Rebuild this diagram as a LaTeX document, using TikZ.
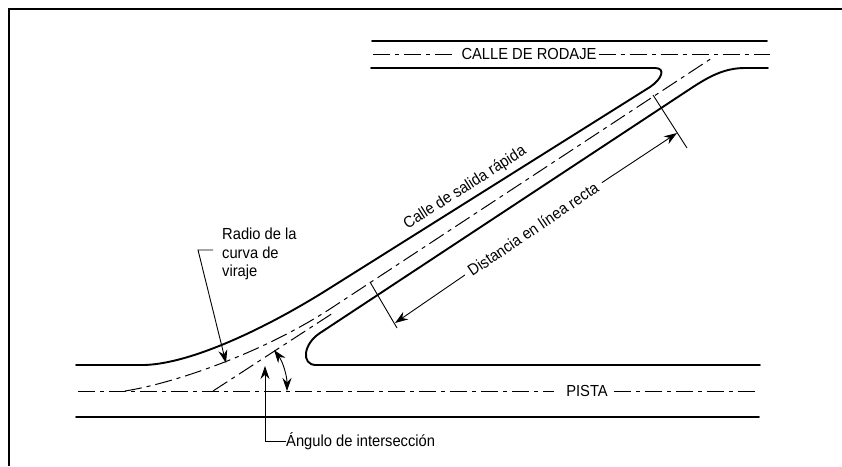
\documentclass[tikz,border=0pt]{standalone}
\usepackage{fontspec}
\setmainfont[FakeStretch=0.92]{Liberation Sans}
\usetikzlibrary{arrows.meta}
\tikzset{
  road/.style={line width=1.9pt,black,line cap=round},
  axis/.style={line width=1pt,black,dash pattern=on 17pt off 5pt on 4pt off 5pt},
  thin leader/.style={line width=0.9pt,black},
  tip/.style={-{Stealth[length=13pt,width=9pt]}},
  lab/.style={inner sep=0pt,font=\fontsize{16}{18.5}\selectfont,text=black}
}
\begin{document}
\begin{tikzpicture}[x=1pt,y=-1pt]
\useasboundingbox (0,0) rectangle (842,466);
% frame
\draw[line width=1.3pt] (9,466) -- (9,9) -- (842,9);
% runway
\draw[road] (372,41) -- (767,41);
\draw[road] (76,417) -- (759,417);
% exit taxiway edges
\draw[road] (76,365) -- (140,365) .. controls (185,366) and (262,331) .. (330,288) -- (650,87) .. controls (662,79) and (666,68) .. (655,68) -- (371,68);
\draw[road] (768,68) -- (745,68) .. controls (725,68) and (710,76) .. (693,87) -- (320,333) .. controls (303,344) and (301,365) .. (316,365) -- (760,365);
% centre lines
\coordinate (rwL) at (78,391);
\coordinate (rwR) at (757,391);
\coordinate (twL) at (373,54);
\coordinate (twR) at (770,54);
\node[lab] (pista) at (587,391) {PISTA};
\node[lab] (calle) at (529,54) {CALLE DE RODAJE};
\draw[axis,shorten >=12pt] (rwL) -- (pista.west);
\draw[axis,shorten <=6pt] (pista.east) -- (rwR);
\draw[axis,shorten >=7pt] (twL) -- (calle.west);
\draw[axis,shorten <=2pt] (calle.east) -- (twR);
\draw[axis] (125,391) .. controls (170,384) and (260,355) .. (333,307) -- (712,58);
\draw[axis] (213,391) -- (333,313);
% ticks
\coordinate (t1a) at (370,282); \coordinate (t1b) at (397,328);
\coordinate (t2a) at (653,95); \coordinate (t2b) at (687,148);
\draw[thin leader] (t1a) -- (t1b);
\draw[thin leader] (t2a) -- (t2b);
% distance
\node[lab,rotate=34] (dist) at (533,229) {Distancia en línea recta};
\draw[thin leader,tip,shorten <=5pt] (dist.west) -- (395,323);
\draw[thin leader,tip,shorten <=6pt] (dist.east) -- (677,133);
\node[lab,rotate=32.5] (salida) at (465,188) {Calle de salida rápida};
% radius
\node[lab,align=left,anchor=north west] (radio) at (222,228) {Radio de la\\curva de\\viraje};
\coordinate (r1) at (213,250); \coordinate (r2) at (198,250); \coordinate (r3) at (226,363);
\draw[thin leader,tip] (r1) -- (r2) -- (r3);
% angle
\coordinate (a1) at (274,350); \coordinate (a2) at (287,391);
\draw[thin leader,{Stealth[length=13pt,width=9pt]}-{Stealth[length=13pt,width=9pt]}] (a1) .. controls (283,362) and (287,376) .. (a2);
\node[lab,anchor=west] (ang) at (286,441) {Ángulo de intersección};
\coordinate (v1) at (265,441); \coordinate (v2) at (265,366);
\draw[thin leader,tip] (ang.west) -- (v1) -- (v2);
\end{tikzpicture}
\end{document}
